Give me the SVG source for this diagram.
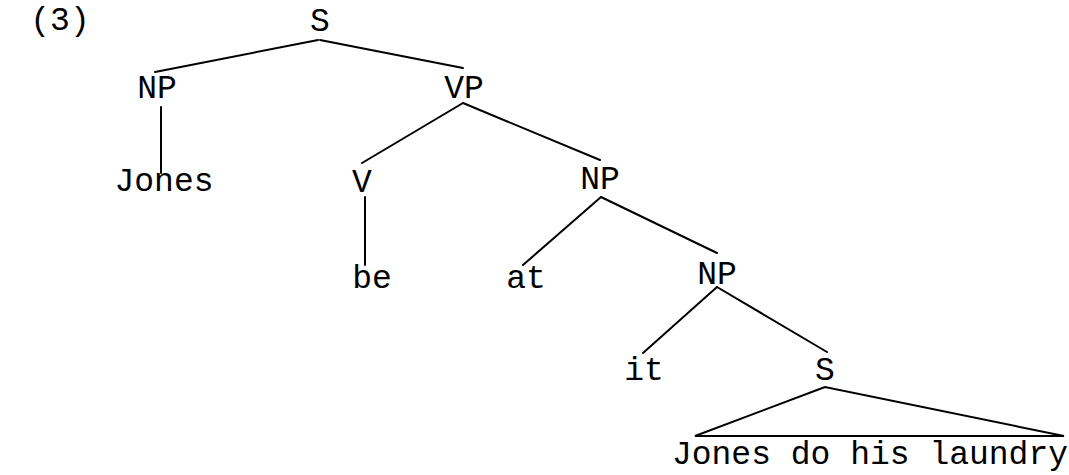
<svg xmlns="http://www.w3.org/2000/svg" width="1069" height="475" viewBox="0 0 1069 475">
<style>
text{font-family:"Liberation Mono","Courier New",monospace;font-size:33px;fill:#000;text-anchor:middle}
.l{stroke:#000;stroke-width:2;fill:none;stroke-linecap:round}
</style>
<rect width="1069" height="475" fill="#fff"/>
<text x="60" y="30">(3)</text>
<g id="connectors">
<line class="l" x1="318" y1="40" x2="155" y2="72"/>
<line class="l" x1="320" y1="40" x2="463" y2="68"/>
<line class="l" x1="161" y1="107" x2="161" y2="173"/>
<line class="l" x1="463" y1="103" x2="362" y2="163"/>
<line class="l" x1="463" y1="103" x2="600" y2="160"/>
<line class="l" x1="365" y1="197" x2="365" y2="265"/>
<line class="l" x1="601" y1="197" x2="523" y2="265"/>
<line class="l" x1="601" y1="197" x2="717" y2="253"/>
<line class="l" x1="717" y1="287" x2="643" y2="353"/>
<line class="l" x1="717" y1="287" x2="827" y2="352"/>
<polygon class="l" points="825,387 695,436 1064,436"/>
</g>
<g id="S1"><text x="320" y="31">S</text></g>
<g id="NP1"><text x="157" y="98">NP</text></g>
<g id="VP"><text x="464" y="98">VP</text></g>
<g id="Jones"><text x="164" y="191">Jones</text></g>
<g id="V"><text x="362" y="192">V</text></g>
<g id="NP2"><text x="600" y="189">NP</text></g>
<g id="be"><text x="372" y="288">be</text></g>
<g id="at"><text x="526" y="288">at</text></g>
<g id="NP3"><text x="717" y="284">NP</text></g>
<g id="it"><text x="644" y="380">it</text></g>
<g id="S2"><text x="825" y="380">S</text></g>
<g id="clause"><text x="870" y="464">Jones do his laundry</text></g>
</svg>
